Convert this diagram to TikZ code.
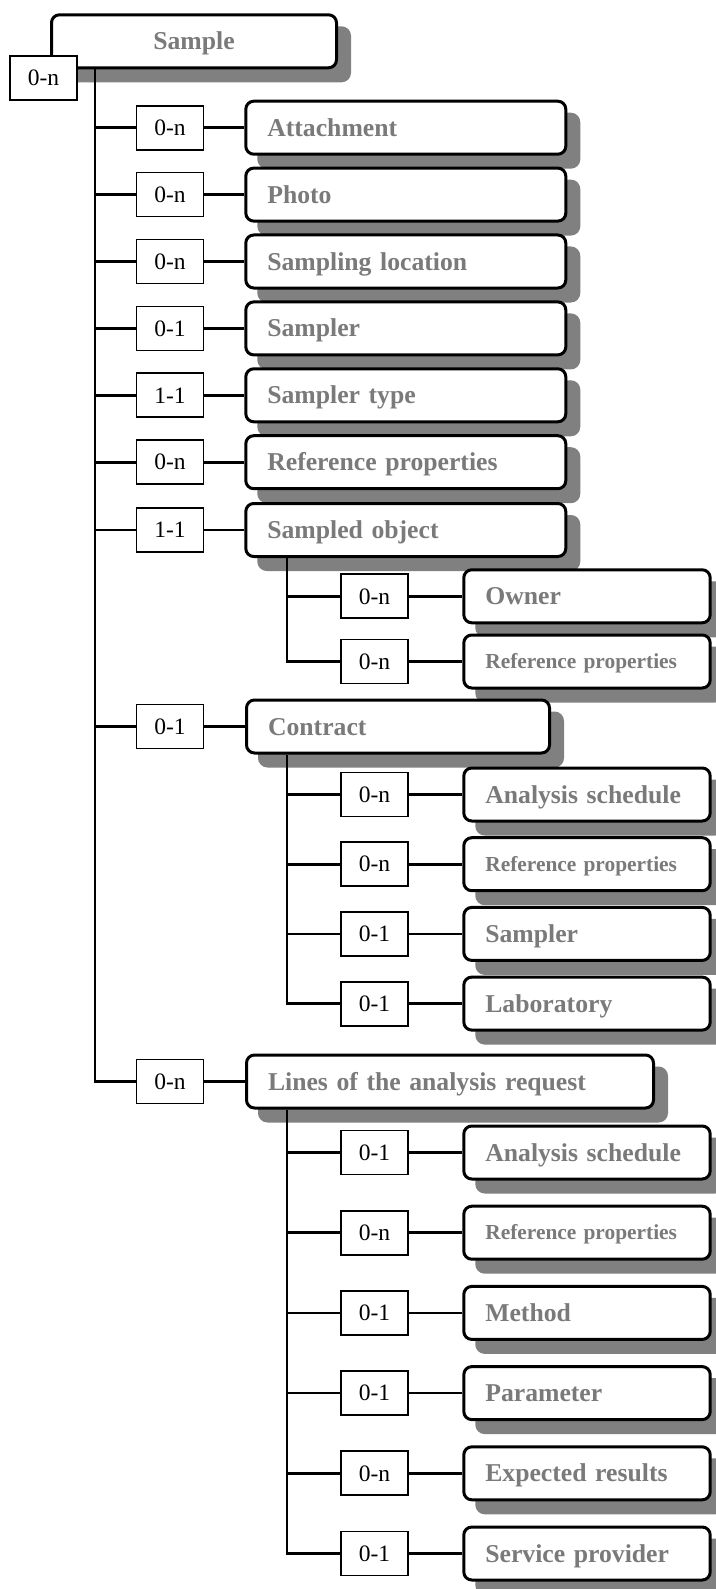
\documentclass[tikz,border=0pt]{standalone}
\usepackage{fontspec}
\setmainfont{Liberation Serif}
\usepackage{tikz}
\definecolor{shadegray}{RGB}{128,128,128}
\definecolor{labelgray}{RGB}{122,122,122}

\begin{document}
\begin{tikzpicture}[x=1pt,y=-1pt,
        entity/.style={draw,line width=3pt,rounded corners=8pt,fill=white,
            preaction={fill=shadegray,draw=shadegray,transform canvas={xshift=13pt,yshift=-13pt}},
            minimum height=53pt,inner xsep=21.5pt,inner ysep=0pt,text width=#1,align=left,
            text=labelgray,font=\bfseries\fontsize{25.7}{30}\selectfont,text height=17pt,text depth=0pt},
        entity/.default=277pt,
        small/.style={font=\bfseries\fontsize{21.4}{26}\selectfont,text height=14.2pt},
        card/.style={draw,line width=1.8pt,fill=white,minimum width=67pt,minimum height=44pt,
            inner sep=0pt,font=\fontsize{23.5}{28}\selectfont,text height=15.5pt,text depth=0pt},
        link/.style={line width=2.6pt}]
        \useasboundingbox (0,0) rectangle (715,1589);
        \coordinate (T) at (95,0);
        \coordinate (U) at (287,0);

        \node (S) at (194,41.3) [entity=242pt,align=center] {Sample};
        \node (S0) at (43.5,78) [card] {0-n};

        \node (e1) at (405.8,127.7) [entity] {Attachment};
        \node (c1) at (170,127.7) [card] {0-n};
        \node (e2) at (405.8,194.6) [entity] {Photo};
        \node (c2) at (170,194.6) [card] {0-n};
        \node (e3) at (405.8,261.5) [entity] {Sampling location};
        \node (c3) at (170,261.5) [card] {0-n};
        \node (e4) at (405.8,328.4) [entity] {Sampler};
        \node (c4) at (170,328.4) [card] {0-1};
        \node (e5) at (405.8,395.3) [entity] {Sampler type};
        \node (c5) at (170,395.3) [card] {1-1};
        \node (e6) at (405.8,462.2) [entity] {Reference properties};
        \node (c6) at (170,462.2) [card] {0-n};
        \node (e7) at (405.8,530) [entity] {Sampled object};
        \node (c7) at (170,530) [card] {1-1};

        \node (e7a) at (587,596.3) [entity=203.4pt] {Owner};
        \node (c7a) at (374.5,596.3) [card] {0-n};
        \node (e7b) at (587,661.5) [entity=203.4pt,small] {Reference properties};
        \node (c7b) at (374.5,661.5) [card] {0-n};

        \node (e8) at (398,726.5) [entity=260pt] {Contract};
        \node (c8) at (170,726.5) [card] {0-1};

        \node (e8a) at (587,794.5) [entity=203.4pt] {Analysis schedule};
        \node (c8a) at (374.5,794.5) [card] {0-n};
        \node (e8b) at (587,864.2) [entity=203.4pt,small] {Reference properties};
        \node (c8b) at (374.5,864.2) [card] {0-n};
        \node (e8c) at (587,933.9) [entity=203.4pt] {Sampler};
        \node (c8c) at (374.5,933.9) [card] {0-1};
        \node (e8d) at (587,1003.6) [entity=203.4pt] {Laboratory};
        \node (c8d) at (374.5,1003.6) [card] {0-1};

        \node (e9) at (450,1081.5) [entity=364pt] {Lines of the analysis request};
        \node (c9) at (170,1081.5) [card] {0-n};

        \node (e9a) at (587,1152.5) [entity=203.4pt] {Analysis schedule};
        \node (c9a) at (374.5,1152.5) [card] {0-1};
        \node (e9b) at (587,1232.7) [entity=203.4pt,small] {Reference properties};
        \node (c9b) at (374.5,1232.7) [card] {0-n};
        \node (e9c) at (587,1312.9) [entity=203.4pt] {Method};
        \node (c9c) at (374.5,1312.9) [card] {0-1};
        \node (e9d) at (587,1393.1) [entity=203.4pt] {Parameter};
        \node (c9d) at (374.5,1393.1) [card] {0-1};
        \node (e9e) at (587,1473.3) [entity=203.4pt] {Expected results};
        \node (c9e) at (374.5,1473.3) [card] {0-n};
        \node (e9f) at (587,1553.5) [entity=203.4pt] {Service provider};
        \node (c9f) at (374.5,1553.5) [card] {0-1};

        % main trunk
        \draw[link] (S.south -| T) |- (c9);
        \draw[link] (T |- c1) -- (c1) -- (e1);
        \draw[link] (T |- c2) -- (c2) -- (e2);
        \draw[link] (T |- c3) -- (c3) -- (e3);
        \draw[link] (T |- c4) -- (c4) -- (e4);
        \draw[link] (T |- c5) -- (c5) -- (e5);
        \draw[link] (T |- c6) -- (c6) -- (e6);
        \draw[link] (T |- c7) -- (c7) -- (e7);
        \draw[link] (T |- c8) -- (c8) -- (e8);
        \draw[link] (c9) -- (e9);

        % sampled object
        \draw[link] (e7.south -| U) |- (c7b);
        \draw[link] (U |- c7a) -- (c7a) -- (e7a);
        \draw[link] (c7b) -- (e7b);

        % contract
        \draw[link] (e8.south -| U) |- (c8d);
        \draw[link] (U |- c8a) -- (c8a) -- (e8a);
        \draw[link] (U |- c8b) -- (c8b) -- (e8b);
        \draw[link] (U |- c8c) -- (c8c) -- (e8c);
        \draw[link] (c8d) -- (e8d);

        % lines of the analysis request
        \draw[link] (e9.south -| U) |- (c9f);
        \draw[link] (U |- c9a) -- (c9a) -- (e9a);
        \draw[link] (U |- c9b) -- (c9b) -- (e9b);
        \draw[link] (U |- c9c) -- (c9c) -- (e9c);
        \draw[link] (U |- c9d) -- (c9d) -- (e9d);
        \draw[link] (U |- c9e) -- (c9e) -- (e9e);
        \draw[link] (c9f) -- (e9f);
    \end{tikzpicture}
\end{document}
